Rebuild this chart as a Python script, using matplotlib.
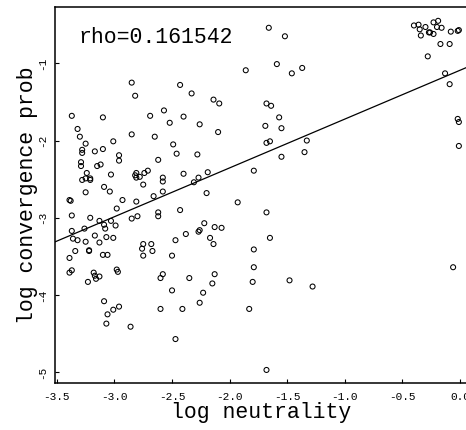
import matplotlib
matplotlib.use('Agg')
import matplotlib.pyplot as plt

# log neutrality (x) and log convergence prob (y)
log_neutrality = [
    -2.85, -2.43, -2.33, -2.82, -2.14, -2.09, -3.37, -3.10, -2.57, -2.69,
    -2.40, -2.52, -2.26, -3.32, -3.30, -2.85, -2.65, -2.10, -3.25, -3.01,
    -3.28, -3.28, -3.17, -3.10, -2.49, -2.46, -2.28, -2.96, -2.96, -3.29,
    -3.29, -2.62, -3.12, -3.15, -3.24, -3.03, -2.81, -2.82, -2.81, -2.78,
    -2.74, -2.71, -2.58, -2.58, -2.40, -2.31, -2.27, -2.19, -3.28, -3.25,
    -3.21, -3.21, -3.09, -3.04, -3.25, -2.75, -2.58, -2.20, -2.66, -2.93,
    -2.98, -2.81, -3.39, -3.38, -1.93, -2.43, -2.62, -2.62,
    -1.66, -1.52, -1.86, -1.59, -1.46, -1.37, -1.68, -1.64, -1.57, -1.69,
    -1.55, -1.68, -1.65, -1.33, -1.35, -1.55, -1.79, -1.68,
    -0.40, -0.36, -0.35, -0.34, -0.30, -0.27, -0.26, -0.23, -0.23, -0.19,
    -0.20, -0.16, -0.08, -0.02, -0.01, -0.17, -0.09, -0.28, -0.13, -0.09,
    -0.02, -0.01, -0.01,
    -2.85, -2.80, -3.21, -3.37, -3.13, -3.09, -3.08, -3.03, -2.99, -3.26,
    -3.37, -3.36, -3.32, -3.25, -3.17, -3.13, -3.07, -3.01, -3.34, -3.22,
    -3.22, -3.39, -3.10, -3.06, -2.98, -2.97, -3.39, -3.37, -3.18, -3.17,
    -3.16, -3.13, -3.23, -3.09, -2.96, -3.01, -3.06, -3.07, -2.86, -2.75,
    -2.68, -2.76, -2.75, -2.67, -2.47, -2.38, -2.27, -2.26, -2.22, -2.17,
    -2.14, -2.13, -2.07, -2.50, -2.60, -2.58, -2.35, -2.13, -2.15, -2.23,
    -2.26, -2.50, -2.60, -2.41, -2.47,
    -1.65, -1.79, -1.79, -1.80, -1.48, -1.28, -1.83, -1.68, -0.06,
]
log_conv_prob = [
    -1.25, -1.28, -1.39, -1.42, -1.47, -1.52, -1.68, -1.70, -1.61, -1.68,
    -1.69, -1.77, -1.79, -1.85, -1.95, -1.92, -1.95, -1.89, -2.04, -2.01,
    -2.12, -2.16, -2.14, -2.11, -2.05, -2.17, -2.18, -2.19, -2.26, -2.28,
    -2.33, -2.25, -2.31, -2.33, -2.42, -2.44, -2.42, -2.45, -2.48, -2.47,
    -2.42, -2.39, -2.48, -2.53, -2.43, -2.54, -2.48, -2.41, -2.51, -2.49,
    -2.51, -2.49, -2.60, -2.66, -2.67, -2.57, -2.66, -2.68, -2.72, -2.77,
    -2.88, -2.79, -2.77, -2.78, -2.80, -2.90, -2.93, -2.98,
    -0.54, -0.65, -1.09, -1.01, -1.13, -1.06, -1.52, -1.55, -1.70, -1.81,
    -1.84, -2.03, -2.01, -2.00, -2.15, -2.21, -2.39, -2.93,
    -0.51, -0.50, -0.56, -0.64, -0.53, -0.60, -0.60, -0.62, -0.47, -0.45,
    -0.53, -0.54, -0.59, -0.58, -0.57, -0.75, -0.75, -0.91, -1.13, -1.27,
    -1.72, -1.76, -2.07,
    -3.01, -2.98, -3.00, -2.97, -3.04, -3.09, -3.14, -3.04, -3.10, -3.14,
    -3.17, -3.27, -3.29, -3.31, -3.23, -3.32, -3.25, -3.26, -3.43, -3.42,
    -3.43, -3.52, -3.48, -3.48, -3.67, -3.70, -3.71, -3.68, -3.71, -3.75,
    -3.79, -3.76, -3.83, -4.08, -4.15, -4.19, -4.25, -4.37, -4.41, -3.34,
    -3.34, -3.40, -3.49, -3.43, -3.29, -3.21, -3.18, -3.16, -3.07, -3.26,
    -3.34, -3.12, -3.13, -3.49, -3.78, -3.73, -3.78, -3.73, -3.85, -3.97,
    -4.10, -3.94, -4.18, -4.18, -4.57,
    -3.26, -3.41, -3.64, -3.83, -3.81, -3.89, -4.18, -4.97, -3.64,
]

# fitted line
fit_intercept = -1.09
fit_slope = 0.632
rho_text = 'rho=0.161542'

x_ticks = [-3.5, -3.0, -2.5, -2.0, -1.5, -1.0, -0.5, 0.0]
y_ticks = [-5, -4, -3, -2, -1]

plt.rcParams['font.family'] = ['Liberation Mono', 'DejaVu Sans Mono']
plt.rcParams['axes.unicode_minus'] = False

fig = plt.figure(figsize=(4.66, 4.30), dpi=100)
ax = fig.add_axes([0.117, 0.110, 0.885, 0.873])

ax.scatter(log_neutrality, log_conv_prob, s=13, facecolors='none',
           edgecolors='black', linewidths=0.75)
ax.axline((0, fit_intercept), slope=fit_slope, color='black', lw=0.9)

ax.text(-2.64, -0.66, rho_text, fontsize=15.5, ha='center', va='center')

ax.set_xlim(-3.52, 0.06)
ax.set_ylim(-5.135, -0.275)
ax.set_xticks(x_ticks)
ax.set_xticklabels(['%.1f' % v for v in x_ticks])
ax.set_yticks(y_ticks)
ax.set_yticklabels([str(v) for v in y_ticks], rotation=90, va='center')
ax.tick_params(direction='in', length=3, width=0.8, labelsize=8)
ax.tick_params(axis='x', pad=7)
ax.tick_params(axis='y', pad=5)

ax.set_xlabel('log neutrality', fontsize=15.5, labelpad=0)
ax.set_ylabel('log convergence prob', fontsize=15.5, labelpad=0)

ax.spines['right'].set_visible(False)
for s in ['left', 'bottom', 'top']:
    ax.spines[s].set_linewidth(1.1)

fig.savefig('out.png', dpi=100)
